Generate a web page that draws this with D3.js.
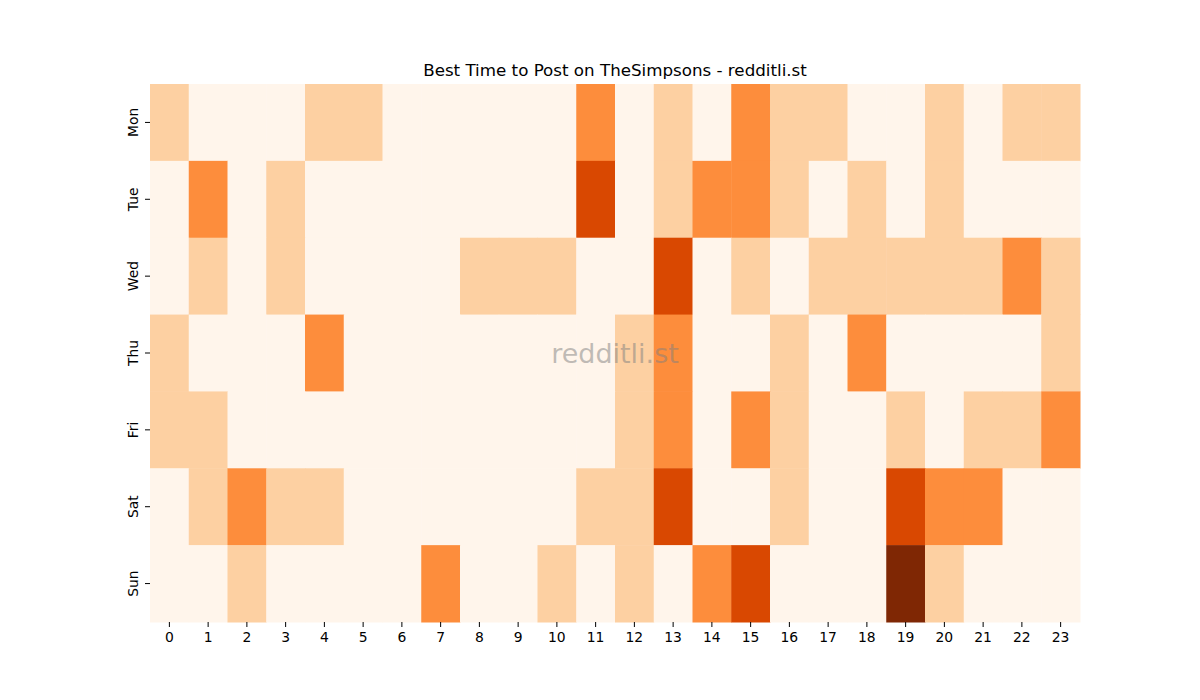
<!DOCTYPE html>
<html>
<head>
<meta charset="utf-8">
<script src="https://cdn.jsdelivr.net/npm/d3@7"></script>
<style>
  body { margin: 0; background: #fff; }
  text { font-family: "DejaVu Sans", sans-serif; }
</style>
</head>
<body>
<svg id="chart" width="1200" height="700"></svg>
<script>
// days and hours of the heatmap
const days = ["Mon", "Tue", "Wed", "Thu", "Fri", "Sat", "Sun"];
const hours = d3.range(24);

// activity level per day, one value per hour (0..4)
const mon = [1,0,0,0,1,1,0,0,0,0,0,2,0,1,0,2,1,1,0,0,1,0,1,1];
const tue = [0,2,0,1,0,0,0,0,0,0,0,3,0,1,2,2,1,0,1,0,1,0,0,0];
const wed = [0,1,0,1,0,0,0,0,1,1,1,0,0,3,0,1,0,1,1,1,1,1,2,1];
const thu = [1,0,0,0,2,0,0,0,0,0,0,0,1,2,0,0,1,0,2,0,0,0,0,1];
const fri = [1,1,0,0,0,0,0,0,0,0,0,0,1,2,0,2,1,0,0,1,0,1,1,2];
const sat = [0,1,2,1,1,0,0,0,0,0,0,1,1,3,0,0,1,0,0,3,2,2,0,0];
const sun = [0,0,1,0,0,0,0,2,0,0,1,0,1,0,2,3,0,0,0,4,1,0,0,0];
const rows = [mon, tue, wed, thu, fri, sat, sun];

const width = 1200, height = 700;
const margin = { top: 84, right: 120, bottom: 78, left: 150 };

const svg = d3.select("#chart");

const cells = [];
rows.forEach((r, i) => r.forEach((v, h) => cells.push({ day: days[i], hour: h, value: v })));

const x = d3.scaleBand().domain(hours).range([margin.left, width - margin.right]);
const y = d3.scaleBand().domain(days).range([margin.top, height - margin.bottom]);

const color = d3.scaleLinear()
  .domain([0, 1, 2, 3, 4])
  .range(["#fff5eb", "#fdd0a2", "#fd8d3c", "#d94801", "#7f2704"]);

svg.append("g")
  .selectAll("rect")
  .data(cells)
  .join("rect")
  .attr("x", d => x(d.hour))
  .attr("y", d => y(d.day))
  .attr("width", x.bandwidth() + 0.5)
  .attr("height", y.bandwidth() + 0.5)
  .attr("fill", d => color(d.value));

// x axis
const xAxis = svg.append("g")
  .attr("transform", `translate(0,${height - margin.bottom})`)
  .call(d3.axisBottom(x).tickSize(5).tickPadding(5));
xAxis.select(".domain").remove();
xAxis.selectAll("text").style("font-size", "13.9px").attr("fill", "#000");
xAxis.selectAll("line").attr("stroke", "#000").attr("stroke-width", 1);

// y axis
const yAxis = svg.append("g")
  .attr("transform", `translate(${margin.left},0)`)
  .call(d3.axisLeft(y).tickSize(5).tickPadding(4));
yAxis.select(".domain").remove();
yAxis.selectAll("line").attr("stroke", "#000").attr("stroke-width", 1);
yAxis.selectAll("text")
  .style("font-size", "13.9px")
  .attr("fill", "#000")
  .attr("text-anchor", "middle")
  .attr("x", null)
  .attr("dy", null)
  .attr("transform", "translate(-17,0) rotate(-90)")
  .attr("dominant-baseline", "central");

// title
svg.append("text")
  .attr("x", (margin.left + width - margin.right) / 2)
  .attr("y", margin.top - 8)
  .attr("text-anchor", "middle")
  .style("font-size", "16.7px")
  .attr("fill", "#000")
  .text("Best Time to Post on TheSimpsons - redditli.st");

// watermark
svg.append("text")
  .attr("x", (margin.left + width - margin.right) / 2)
  .attr("y", (margin.top + height - margin.bottom) / 2)
  .attr("text-anchor", "middle")
  .attr("dominant-baseline", "central")
  .style("font-size", "27px")
  .attr("fill", "#808080")
  .attr("fill-opacity", 0.5)
  .text("redditli.st");
</script>
</body>
</html>
